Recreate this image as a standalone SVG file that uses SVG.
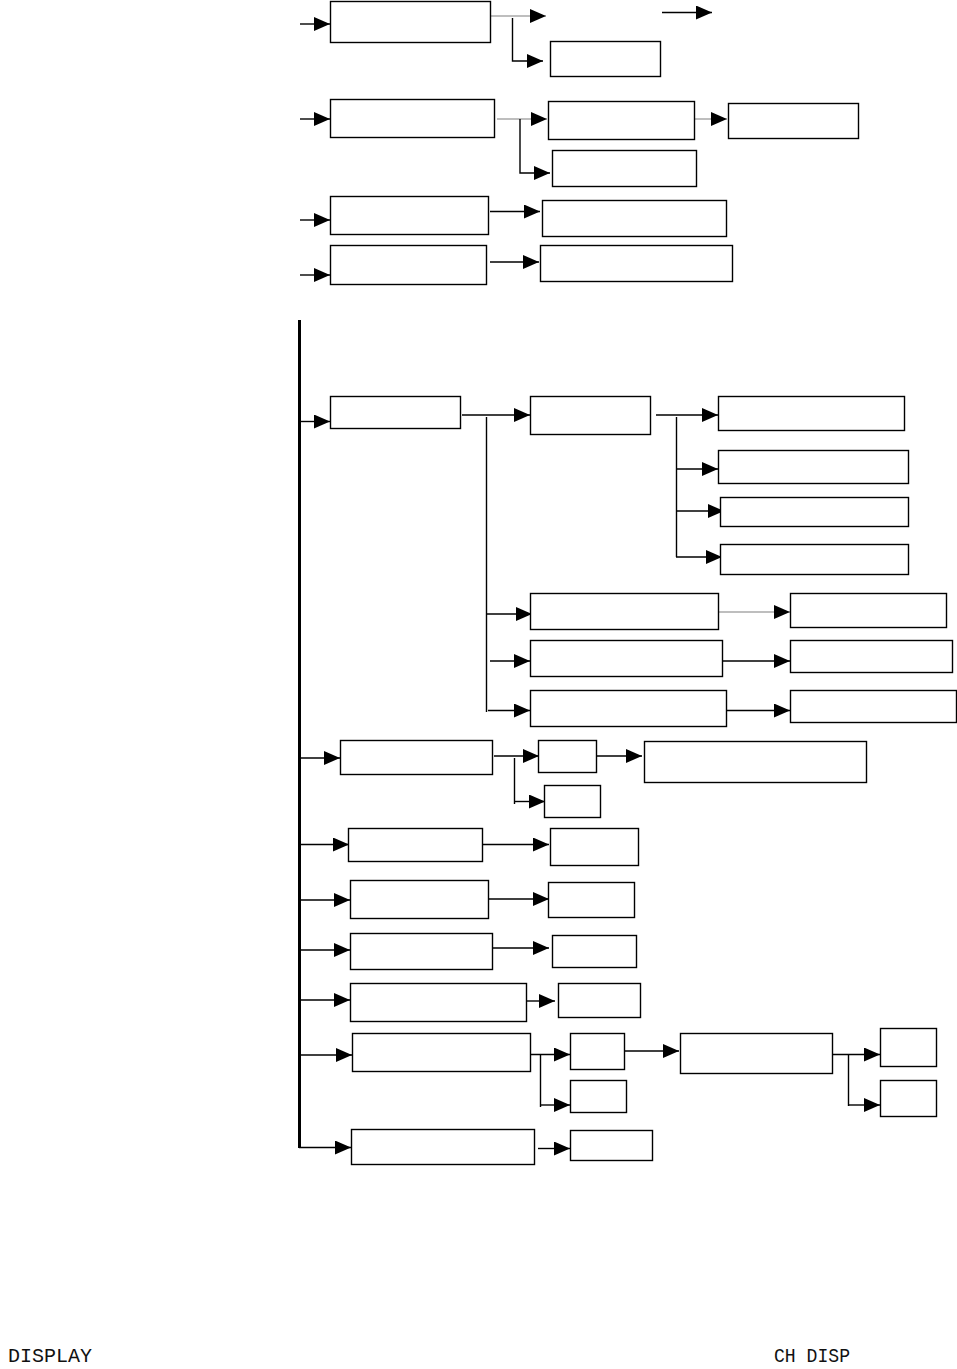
<svg xmlns="http://www.w3.org/2000/svg" width="957" height="1369" viewBox="0 0 957 1369">
<style>
.box{fill:#fff;stroke:#000;stroke-width:1.4}
.ln{fill:none;stroke:#000;stroke-width:1.4}
.gl{fill:none;stroke:#a8a8a8;stroke-width:1.4}
.main{fill:none;stroke:#000;stroke-width:3}
.lcd{font-family:"Liberation Mono","DejaVu Sans Mono",monospace;font-size:20px;fill:#111}
</style>
<defs>
<marker id="ah" markerUnits="userSpaceOnUse" markerWidth="16" markerHeight="14" refX="16" refY="7" orient="auto">
<path d="M0,0 L16,7 L0,14 z" fill="#000"/>
</marker>
</defs>
<rect width="957" height="1369" fill="#fff"/>
<g id="connectors">
<path class="main" d="M299.5,320 V1148"/>
<g marker-end="url(#ah)">
<path class="ln" d="M300,24 H330"/>
<path class="ln" d="M300,119 H330"/>
<path class="ln" d="M300,220 H330"/>
<path class="ln" d="M300,275 H330"/>
<path class="ln" d="M300,421.5 H330"/>
<path class="ln" d="M300,758 H340"/>
<path class="ln" d="M300,844.5 H349"/>
<path class="ln" d="M300,900 H350"/>
<path class="ln" d="M300,950 H350"/>
<path class="ln" d="M300,1000 H350"/>
<path class="ln" d="M300,1055 H352"/>
<path class="ln" d="M299,1147.5 H351"/>
<path class="gl" d="M491,16 H546"/>
<path class="ln" d="M512.5,18 V61 H543"/>
<path class="ln" d="M662,12.5 H712"/>
<path class="gl" d="M497,119 H547"/>
<path class="ln" d="M520,119 V173 H550"/>
<path class="gl" d="M694,119 H727"/>
<path class="ln" d="M490,211.5 H540"/>
<path class="ln" d="M490,262 H539"/>
<path class="ln" d="M462,415 H530"/>
<path class="ln" d="M486,614 H532"/>
<path class="ln" d="M490,661 H530"/>
<path class="ln" d="M488,710.5 H530"/>
<path class="ln" d="M656,415 H718"/>
<path class="ln" d="M676,469 H718"/>
<path class="ln" d="M676,511 H724"/>
<path class="ln" d="M676,557 H722"/>
<path class="gl" d="M716,612 H790"/>
<path class="ln" d="M722,661 H790"/>
<path class="ln" d="M724,710.5 H790"/>
<path class="ln" d="M494,756 H539"/>
<path class="ln" d="M515,801.5 H545"/>
<path class="ln" d="M597,756 H642"/>
<path class="ln" d="M483,844.5 H549"/>
<path class="ln" d="M486,899 H549"/>
<path class="ln" d="M493,948 H549"/>
<path class="ln" d="M526,1001 H555"/>
<path class="ln" d="M530,1054.5 H570"/>
<path class="ln" d="M540,1105 H570"/>
<path class="ln" d="M624,1051 H679"/>
<path class="ln" d="M832,1054.5 H880"/>
<path class="ln" d="M848,1105 H880"/>
<path class="ln" d="M538,1148.5 H570"/>
</g>
<path class="ln" d="M486.5,417 V712"/>
<path class="ln" d="M676.5,417 V557"/>
<path class="ln" d="M514.5,758 V804"/>
<path class="ln" d="M540.5,1054.5 V1107"/>
<path class="ln" d="M848.5,1054.5 V1106"/>
</g>
<g id="nA"><rect class="box" x="330.5" y="1.5" width="160" height="41"/></g>
<g id="nA2"><rect class="box" x="550.5" y="41.5" width="110" height="35"/></g>
<g id="nB"><rect class="box" x="330.5" y="99.5" width="164" height="38"/></g>
<g id="nB1"><rect class="box" x="548.5" y="101.5" width="146" height="38"/></g>
<g id="nB1a"><rect class="box" x="728.5" y="103.5" width="130" height="35"/></g>
<g id="nB2"><rect class="box" x="552.5" y="150.5" width="144" height="36"/></g>
<g id="nC"><rect class="box" x="330.5" y="196.5" width="158" height="38"/></g>
<g id="nC1"><rect class="box" x="542.5" y="200.5" width="184" height="36"/></g>
<g id="nD"><rect class="box" x="330.5" y="245.5" width="156" height="39"/></g>
<g id="nD1"><rect class="box" x="540.5" y="245.5" width="192" height="36"/></g>
<g id="nE"><rect class="box" x="330.5" y="396.5" width="130" height="32"/></g>
<g id="nE1"><rect class="box" x="530.5" y="396.5" width="120" height="38"/></g>
<g id="nE1a"><rect class="box" x="718.5" y="396.5" width="186" height="34"/></g>
<g id="nE1b"><rect class="box" x="718.5" y="450.5" width="190" height="33"/></g>
<g id="nE1c"><rect class="box" x="720.5" y="497.5" width="188" height="29"/></g>
<g id="nE1d"><rect class="box" x="720.5" y="544.5" width="188" height="30"/></g>
<g id="nE2"><rect class="box" x="530.5" y="593.5" width="188" height="36"/></g>
<g id="nE2a"><rect class="box" x="790.5" y="593.5" width="156" height="34"/></g>
<g id="nE3"><rect class="box" x="530.5" y="640.5" width="192" height="36"/></g>
<g id="nE3a"><rect class="box" x="790.5" y="640.5" width="162" height="32"/></g>
<g id="nE4"><rect class="box" x="530.5" y="690.5" width="196" height="36"/></g>
<g id="nE4a"><rect class="box" x="790.5" y="690.5" width="166" height="32"/></g>
<g id="nF"><rect class="box" x="340.5" y="740.5" width="152" height="34"/></g>
<g id="nF1"><rect class="box" x="538.5" y="740.5" width="58" height="32"/></g>
<g id="nF1a"><rect class="box" x="644.5" y="741.5" width="222" height="41"/></g>
<g id="nF2"><rect class="box" x="544.5" y="785.5" width="56" height="32"/></g>
<g id="nG"><rect class="box" x="348.5" y="828.5" width="134" height="33"/></g>
<g id="nG1"><rect class="box" x="550.5" y="828.5" width="88" height="37"/></g>
<g id="nH"><rect class="box" x="350.5" y="880.5" width="138" height="38"/></g>
<g id="nH1"><rect class="box" x="548.5" y="882.5" width="86" height="35"/></g>
<g id="nI"><rect class="box" x="350.5" y="933.5" width="142" height="36"/></g>
<g id="nI1"><rect class="box" x="552.5" y="935.5" width="84" height="32"/></g>
<g id="nJ"><rect class="box" x="350.5" y="983.5" width="176" height="38"/></g>
<g id="nJ1"><rect class="box" x="558.5" y="983.5" width="82" height="34"/></g>
<g id="nK"><rect class="box" x="352.5" y="1033.5" width="178" height="38"/></g>
<g id="nK1"><rect class="box" x="570.5" y="1033.5" width="54" height="36"/></g>
<g id="nK2"><rect class="box" x="570.5" y="1080.5" width="56" height="32"/></g>
<g id="nK1a"><rect class="box" x="680.5" y="1033.5" width="152" height="40"/></g>
<g id="nK1a1"><rect class="box" x="880.5" y="1028.5" width="56" height="38"/></g>
<g id="nK1a2"><rect class="box" x="880.5" y="1080.5" width="56" height="36"/></g>
<g id="nL"><rect class="box" x="351.5" y="1129.5" width="183" height="35"/></g>
<g id="nL1"><rect class="box" x="570.5" y="1130.5" width="82" height="30"/></g>
<g id="labels">
<text class="lcd" x="8" y="1362" textLength="84" lengthAdjust="spacingAndGlyphs">DISPLAY</text>
<text class="lcd" x="774" y="1362" textLength="76" lengthAdjust="spacingAndGlyphs">CH DISP</text>
</g>
</svg>
